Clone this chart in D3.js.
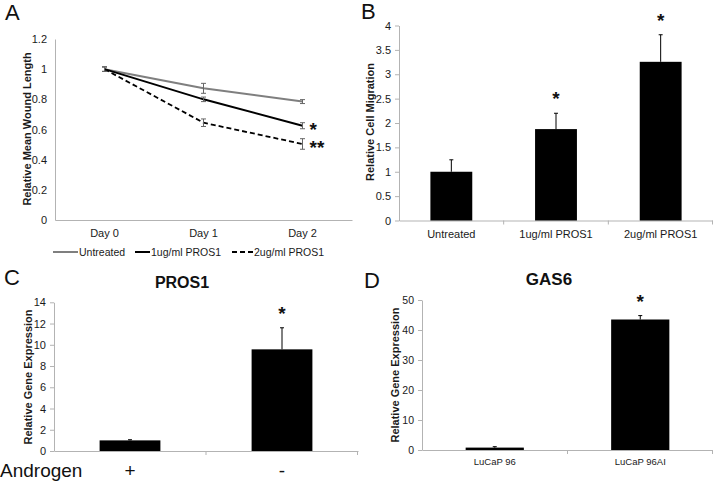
<!DOCTYPE html>
<html><head><meta charset="utf-8">
<script src="https://cdn.jsdelivr.net/npm/d3@7"></script>
<style>
body{margin:0;background:#fff;}
svg{display:block;font-family:"Liberation Sans",Arial,sans-serif;}
</style></head>
<body><svg id="c" width="713" height="481"></svg>
<script>
// ---- Panel A data ----
const daysA = ["Day 0","Day 1","Day 2"];
const untreatedA = [1.0, 0.873, 0.785];
const untreatedErrA = [0.015, 0.033, 0.013];
const pros1A = [1.0, 0.80, 0.625];
const pros1ErrA = [0.015, 0.015, 0.02];
const pros2A = [1.0, 0.645, 0.504];
const pros2ErrA = [0.015, 0.025, 0.035];
const ticksA = [0,0.2,0.4,0.6,0.8,1,1.2];
const seriesNamesA = ["Untreated","1ug/ml PROS1","2ug/ml PROS1"];
// ---- Panel B data ----
const catsB = ["Untreated","1ug/ml PROS1","2ug/ml PROS1"];
const valsB = [1.0, 1.875, 3.255];
const errB = [0.245, 0.325, 0.555];
const sigB = ["","*","*"];
const ticksB = [0,0.5,1,1.5,2,2.5,3,3.5,4];
// ---- Panel C data ----
const catsC = ["+","-"];
const valsC = [1.0, 9.57];
const errC = [0.06, 2.03];
const sigC = ["","*"];
const ticksC = [0,2,4,6,8,10,12,14];
// ---- Panel D data ----
const catsD = ["LuCaP 96","LuCaP 96AI"];
const valsD = [0.8, 43.5];
const errD = [0.3, 1.3];
const sigD = ["","*"];
const ticksD = [0,10,20,30,40,50];

const svg = d3.select("#c");
const axisCol = "#b3b3b3";
const txtCol = "#1a1a1a";

function styleAxis(g, showTicks){
  g.select(".domain").attr("stroke", axisCol);
  g.selectAll(".tick line").attr("stroke", axisCol).attr("display", showTicks ? null : "none");
  g.selectAll(".tick text").attr("fill", txtCol);
}

function panelLabel(t, x, y){
  svg.append("text").attr("x", x).attr("y", y).attr("font-size", 22).attr("fill","#111").text(t);
}
function yTitle(t, x, y, fs){
  svg.append("text").attr("transform", `translate(${x},${y}) rotate(-90)`)
    .attr("text-anchor","middle").attr("font-size", fs).attr("font-weight","bold").attr("fill", txtCol).text(t);
}

// ================= Panel A =================
{
  const x = d3.scaleBand().domain(daysA).range([55, 352]).padding(0);
  const y = d3.scaleLinear().domain([0,1.2]).range([220, 39]);
  const gy = svg.append("g").attr("transform","translate(55,0)")
    .call(d3.axisLeft(y).tickValues(ticksA).tickFormat(d3.format("~g")).tickSize(0).tickPadding(8));
  gy.attr("font-size", 11).attr("font-family", null);
  styleAxis(gy, false);
  const gx = svg.append("g").attr("transform","translate(0,220)")
    .call(d3.axisBottom(x).tickSize(0).tickPadding(9).tickSizeOuter(0));
  gx.attr("font-size", 11).attr("font-family", null);
  styleAxis(gx, false);

  const cx = d => x(d) + x.bandwidth()/2;
  const series = [
    {vals: untreatedA, err: untreatedErrA, col: "#7f7f7f", dash: null, w: 2},
    {vals: pros1A, err: pros1ErrA, col: "#000", dash: null, w: 2},
    {vals: pros2A, err: pros2ErrA, col: "#000", dash: "5,3", w: 1.8}
  ];
  const line = d3.line().x((d,i)=>cx(daysA[i])).y(d=>y(d));
  series.forEach(s=>{
    svg.append("path").datum(s.vals).attr("d", line).attr("fill","none")
      .attr("stroke", s.col).attr("stroke-width", s.w).attr("stroke-dasharray", s.dash);
  });
  series.forEach(s=>{
    s.vals.forEach((v,i)=>{
      const xx = cx(daysA[i]);
      const g = svg.append("g").attr("stroke","#666").attr("stroke-width",1);
      g.append("line").attr("x1",xx).attr("x2",xx).attr("y1",y(v+s.err[i])).attr("y2",y(v-s.err[i]));
      g.append("line").attr("x1",xx-2.5).attr("x2",xx+2.5).attr("y1",y(v+s.err[i])).attr("y2",y(v+s.err[i]));
      g.append("line").attr("x1",xx-2.5).attr("x2",xx+2.5).attr("y1",y(v-s.err[i])).attr("y2",y(v-s.err[i]));
    });
  });
  svg.append("text").attr("x", cx(daysA[2])+7).attr("y", y(pros1A[2])+10).attr("font-size",19).attr("font-weight","bold").attr("fill","#111").text("*");
  svg.append("text").attr("x", cx(daysA[2])+7).attr("y", y(pros2A[2])+10).attr("font-size",19).attr("font-weight","bold").attr("fill","#111").text("**");

  // legend
  const leg = [
    {x0:53, x1:78, col:"#7f7f7f", dash:null},
    {x0:135, x1:150, col:"#000", dash:null},
    {x0:232, x1:253, col:"#000", dash:"5,3"}
  ];
  leg.forEach((l,i)=>{
    svg.append("line").attr("x1",l.x0).attr("x2",l.x1).attr("y1",252).attr("y2",252)
      .attr("stroke",l.col).attr("stroke-width",2).attr("stroke-dasharray",l.dash);
    svg.append("text").attr("x",l.x1+1).attr("y",256).attr("font-size",10.5).attr("fill",txtCol).text(seriesNamesA[i]);
  });
  yTitle("Relative Mean Wound Length", 31, 129, 11);
  panelLabel("A", 5, 20);
}

// ============ Bar panel helper ============
function barPanel(o){
  const x = d3.scaleBand().domain(o.cats).range([o.x0, o.x1]).paddingInner(0).paddingOuter(0);
  const y = d3.scaleLinear().domain([0, o.ymax]).range([o.y0, o.yTop]);
  const gy = svg.append("g").attr("transform",`translate(${o.x0},0)`)
    .call(d3.axisLeft(y).tickValues(o.ticks).tickFormat(d3.format("~g")).tickSize(4).tickSizeOuter(0).tickPadding(4));
  gy.attr("font-size", o.fs).attr("font-family", null);
  styleAxis(gy, true);
  const gx = svg.append("g").attr("transform",`translate(0,${o.y0})`)
    .call(d3.axisBottom(x).tickSize(0).tickSizeOuter(0).tickPadding(o.xpad).tickFormat(o.hideX ? ()=>"" : null));
  gx.attr("font-size", o.xfs).attr("font-family", null);
  styleAxis(gx, false);
  // category separator ticks
  o.cats.slice(1).forEach(c=>{
    svg.append("line").attr("x1",x(c)).attr("x2",x(c)).attr("y1",o.y0).attr("y2",o.y0+4).attr("stroke",axisCol);
  });
  svg.append("line").attr("x1",o.x1-0.5).attr("x2",o.x1-0.5).attr("y1",o.y0).attr("y2",o.y0+4).attr("stroke",axisCol);
  const bw = x.bandwidth()*0.4;
  o.cats.forEach((c,i)=>{
    const cx = x(c) + x.bandwidth()/2;
    svg.append("rect").attr("x", cx-bw/2).attr("width", bw)
      .attr("y", y(o.vals[i])).attr("height", y(0)-y(o.vals[i])).attr("fill","#000");
    const top = y(o.vals[i]+o.err[i]);
    svg.append("line").attr("x1",cx).attr("x2",cx).attr("y1",y(o.vals[i])).attr("y2",top).attr("stroke","#000").attr("stroke-width",1);
    svg.append("line").attr("x1",cx-2).attr("x2",cx+2).attr("y1",top).attr("y2",top).attr("stroke","#000").attr("stroke-width",1);
    if(o.sig[i]) svg.append("text").attr("x",cx).attr("y",top-8).attr("text-anchor","middle")
      .attr("font-size",19).attr("font-weight","bold").attr("fill","#111").text(o.sig[i]);
  });
  return x;
}

// ================= Panel B =================
barPanel({cats:catsB, vals:valsB, err:errB, sig:sigB, ticks:ticksB, ymax:4,
  x0:399, x1:713, y0:220.5, yTop:25.5, fs:11, xfs:11, xpad:10});
yTitle("Relative Cell Migration", 374, 122, 11);
panelLabel("B", 361, 19);

// ================= Panel C =================
const xC = barPanel({cats:catsC, vals:valsC, err:errC, sig:sigC, ticks:ticksC, ymax:14,
  x0:54, x1:358, y0:451, yTop:302.3, fs:11, xfs:11, xpad:10, hideX:true});
svg.append("text").attr("x",0).attr("y",477).attr("font-size",19).attr("fill","#111").text("Androgen");
catsC.forEach(c=>{
  svg.append("text").attr("x", xC(c)+xC.bandwidth()/2).attr("y",477).attr("text-anchor","middle")
    .attr("font-size",19).attr("fill","#111").text(c);
});
yTitle("Relative Gene Expression", 32, 377, 11);
svg.append("text").attr("x",182).attr("y",288).attr("text-anchor","middle").attr("font-size",16).attr("font-weight","bold").attr("fill","#111").text("PROS1");
panelLabel("C", 4, 285);

// ================= Panel D =================
barPanel({cats:catsD, vals:valsD, err:errD, sig:sigD, ticks:ticksD, ymax:50,
  x0:422, x1:713, y0:450, yTop:300, fs:10.5, xfs:9.5, xpad:8});
yTitle("Relative Gene Expression", 399, 375, 11);
svg.append("text").attr("x",549).attr("y",285).attr("text-anchor","middle").attr("font-size",17).attr("font-weight","bold").attr("fill","#111").text("GAS6");
panelLabel("D", 364, 288);
</script></body></html>
